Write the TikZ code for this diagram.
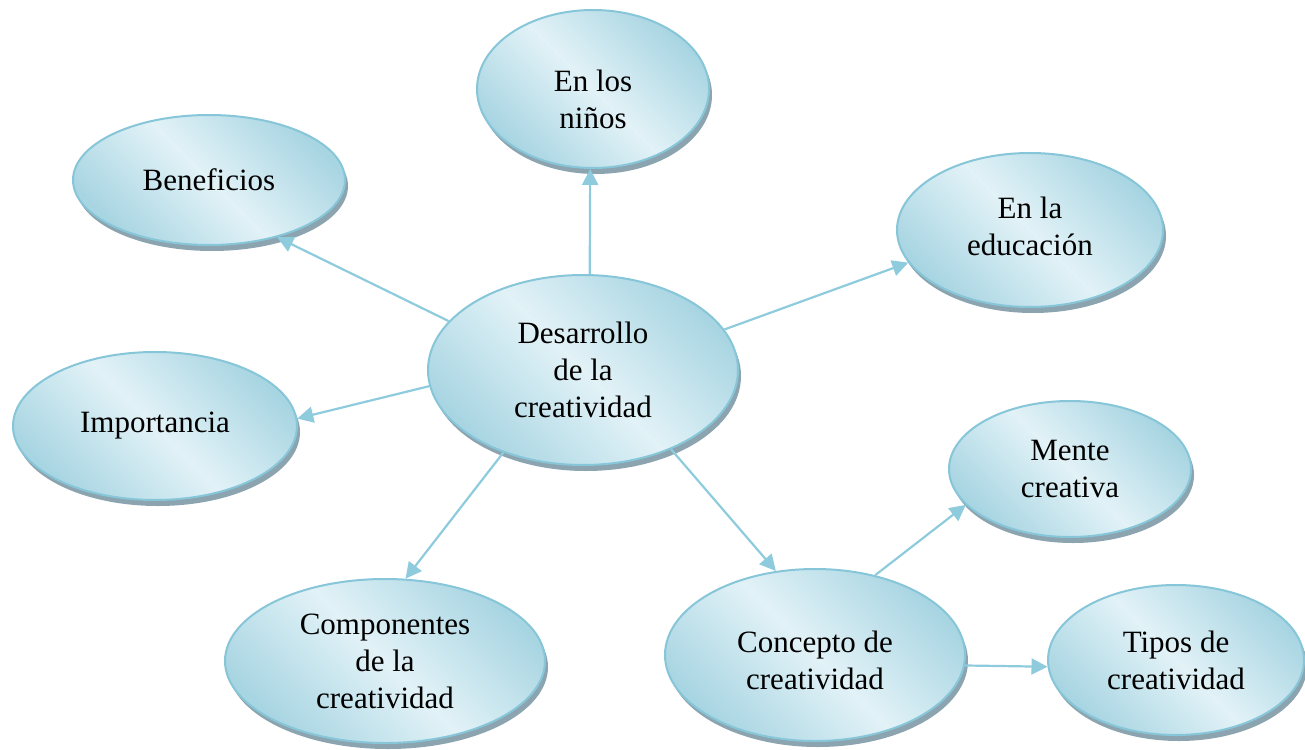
\documentclass[tikz,border=0pt]{standalone}
\usepackage{fontspec}
\setmainfont{Liberation Serif}
\usetikzlibrary{shapes.geometric,shadows,arrows.meta}
\definecolor{edgeblue}{HTML}{86C6D8}
\definecolor{darkfill}{HTML}{A8D5E2}
\definecolor{lightfill}{HTML}{E2F2F7}
\definecolor{shadowcol}{HTML}{7F9AA6}
\definecolor{arrowcol}{HTML}{8ECBDD}
\tikzset{
  bubble/.style={ellipse, draw=edgeblue, line width=2pt, inner sep=0pt,
    top color=darkfill, bottom color=darkfill, middle color=lightfill, shading angle=-45,
    drop shadow={shadow xshift=3pt, shadow yshift=-6pt, fill=shadowcol, opacity=0.9},
    align=center, font=\fontsize{31}{37}\selectfont},
  arr/.style={draw=arrowcol, line width=2.2pt, -{Triangle[length=16pt,width=16pt]}, color=arrowcol}
}
\begin{document}
\begin{tikzpicture}[x=1pt,y=-1pt]
\useasboundingbox (0,0) rectangle (1305,749);
\node[bubble, minimum width=232pt, minimum height=158pt] (ninos) at (593,89) {\rule{0pt}{42pt}En los\\niños};
\node[bubble, minimum width=272pt, minimum height=130pt] (ben) at (209,180) {Beneficios};
\node[bubble, minimum width=266pt, minimum height=154pt] (edu) at (1030,230) {En la\\educación\rule[-8pt]{0pt}{0pt}};
\node[bubble, minimum width=310pt, minimum height=190pt] (des) at (583,370) {Desarrollo\\de la\\creatividad};
\node[bubble, minimum width=284pt, minimum height=148pt] (imp) at (155,426) {Importancia};
\node[bubble, minimum width=242pt, minimum height=136pt] (mente) at (1070,469) {Mente\\creativa};
\node[bubble, minimum width=320pt, minimum height=164pt] (comp) at (385,661) {Componentes\\de la\\creatividad};
\node[bubble, minimum width=300pt, minimum height=172pt] (conc) at (815,655) {\rule{0pt}{32pt}Concepto de\\creatividad};
\node[bubble, minimum width=256pt, minimum height=150pt] (tipos) at (1176,660) {Tipos de\\creatividad};
\draw[arr] (des.86) -- (ninos.-92);
\draw[arr] (des.160) -- (ben.-40);
\draw[arr] (des.16) -- (edu.195);
\draw[arr] (des.186) -- (imp.3);
\draw[arr] (des.226) -- (comp.76);
\draw[arr] (des.-42) -- (conc.115);
\draw[arr] (conc.53) -- (mente.199);
\draw[arr] (conc.-4) -- (tipos.183);
\end{tikzpicture}
\end{document}
